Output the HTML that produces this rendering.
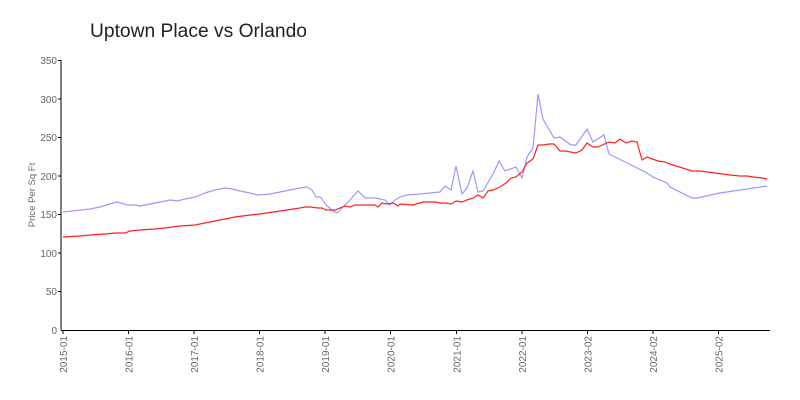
<!DOCTYPE html>
<html><head><meta charset="utf-8"><style>
html,body{margin:0;padding:0;background:#fff;width:800px;height:400px;overflow:hidden}
svg text{font-family:"Liberation Sans",sans-serif}
</style></head><body>
<svg width="800" height="400" viewBox="0 0 800 400" xmlns="http://www.w3.org/2000/svg">
<text x="90" y="37" font-size="19" fill="#222" textLength="217" lengthAdjust="spacingAndGlyphs">Uptown Place vs Orlando</text>
<g fill="#666" font-size="10" text-anchor="end">
<text x="57" y="64">350</text><text x="57" y="103">300</text><text x="57" y="141">250</text>
<text x="57" y="180">200</text><text x="57" y="218">150</text><text x="57" y="257">100</text>
<text x="57" y="295">50</text><text x="57" y="334">0</text>
</g>
<text transform="translate(35,195) rotate(-90)" font-size="9.5" fill="#666" text-anchor="middle">Price Per Sq Ft</text>
<g stroke="#000" stroke-width="1">
<line x1="61" y1="60" x2="61" y2="330"/>
<line x1="61" y1="330.5" x2="770" y2="330.5"/>
<line x1="58" y1="60.5" x2="61" y2="60.5"/><line x1="58" y1="99" x2="61" y2="99"/><line x1="58" y1="137.5" x2="61" y2="137.5"/><line x1="58" y1="176" x2="61" y2="176"/><line x1="58" y1="214.5" x2="61" y2="214.5"/><line x1="58" y1="253" x2="61" y2="253"/><line x1="58" y1="291.5" x2="61" y2="291.5"/>
</g>
<g stroke="#bbb" stroke-width="1" id="minor"></g>
<g stroke="#000" stroke-width="1">
<line x1="63" y1="330" x2="63" y2="334"/><line x1="128.5" y1="330" x2="128.5" y2="334"/><line x1="194" y1="330" x2="194" y2="334"/><line x1="259.5" y1="330" x2="259.5" y2="334"/><line x1="325" y1="330" x2="325" y2="334"/><line x1="390.5" y1="330" x2="390.5" y2="334"/><line x1="456.5" y1="330" x2="456.5" y2="334"/><line x1="522" y1="330" x2="522" y2="334"/><line x1="587.5" y1="330" x2="587.5" y2="334"/><line x1="653" y1="330" x2="653" y2="334"/><line x1="718.5" y1="330" x2="718.5" y2="334"/>
</g>
<g fill="#666" font-size="10" text-anchor="end">
<text transform="translate(67,336) rotate(-90)">2015-01</text>
<text transform="translate(132.5,336) rotate(-90)">2016-01</text>
<text transform="translate(198,336) rotate(-90)">2017-01</text>
<text transform="translate(263.5,336) rotate(-90)">2018-01</text>
<text transform="translate(329,336) rotate(-90)">2019-01</text>
<text transform="translate(394.5,336) rotate(-90)">2020-01</text>
<text transform="translate(460.5,336) rotate(-90)">2021-01</text>
<text transform="translate(526,336) rotate(-90)">2022-01</text>
<text transform="translate(591.5,336) rotate(-90)">2023-02</text>
<text transform="translate(657,336) rotate(-90)">2024-02</text>
<text transform="translate(722.5,336) rotate(-90)">2025-02</text>
</g>
<polyline fill="none" stroke="#9999ff" stroke-width="1.2" points="63,212 90,209 100,207 110,204 117,202 128,205 135,205 140,206 150,204 160,202 170,200 177,201 185,199 195,197 205,193 215,190 225,188 232,189 240,191 250,193 258,195 270,194 280,192 290,190 300,188 307,187 312,190 316,197 320,197 322,199 326,205 332,210 337,213 342,208 350,200 356,193 358,191 363,196 366,198 376,198 385,200 390,205 395,200 400,197 407,195 420,194 440,192 445,186 451,190 456,166 462,194 467,188 473,171 478,192 483,191 493,174 499,161 505,171 516,167 522,178 527,157 533,148 538,94 543,119 554,138 560,137 571,145 576,145 587,129 593,142 604,135 609,154 627,163 647,173 653,177 667,183 670,187 692,198 697,198 720,193 767,186"/>
<polyline fill="none" stroke="#ff2020" stroke-width="1.2" points="63,237 80,236 90,235 105,234 115,233 125,233 130,231 140,230 155,229 165,228 180,226 195,225 210,222 225,219 235,217 250,215 260,214 280,211 300,208 305,207 310,207 318,208 322,208 326,210 335,210 340,208 345,206 350,207 355,205 365,205 375,205 378,207 382,203 387,204 393,203 398,206 400,204 413,205 423,202 435,202 440,203 445,203 451,204 456,201 462,202 467,200 473,198 478,195 483,198 488,191 493,190 500,187 506,183 511,178 516,177 522,172 527,163 533,159 538,145 544,145 549,144 554,144 560,151 565,151 576,153 582,150 587,143 593,147 598,147 609,142 615,143 620,139 626,143 632,141 637,142 642,160 647,157 658,161 665,162 670,164 692,171 700,171 722,174 730,175 740,176 747,176 753,177 762,178 767,179"/>
<script>
var g=document.getElementById('minor'),s='';
for(var i=0;i<130;i++){var x=63+i*65.5/12;if(x>770)break;s+='<line x1="'+x+'" y1="331" x2="'+x+'" y2="333"/>';}
g.innerHTML=s;
</script>
</svg>
</body></html>
